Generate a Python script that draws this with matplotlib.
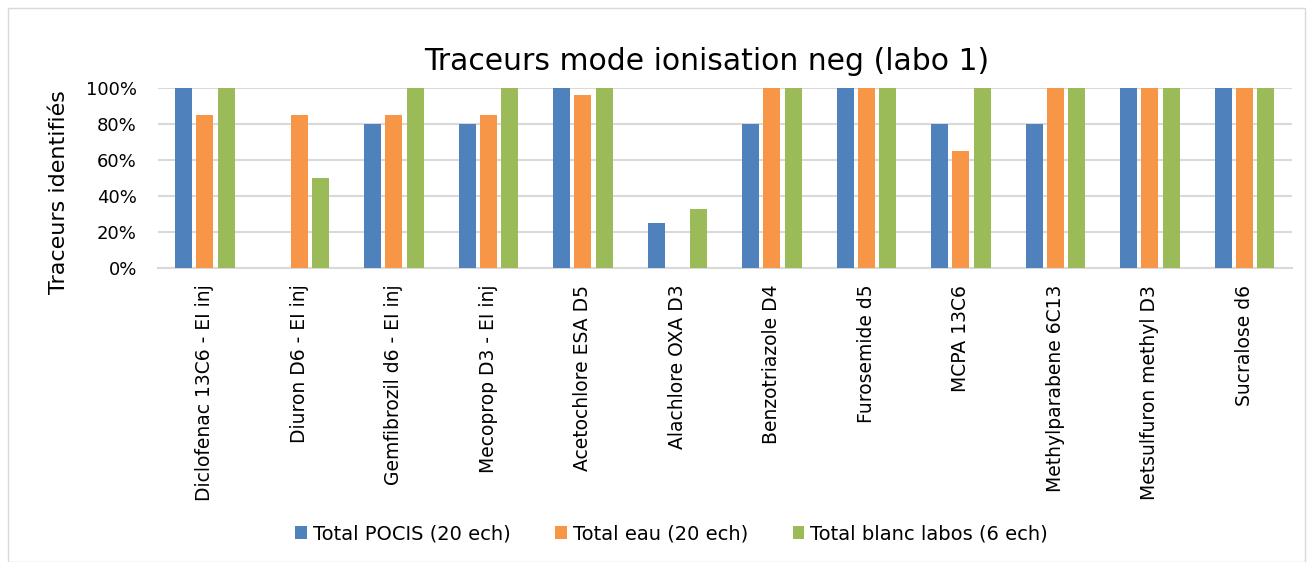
import matplotlib
matplotlib.use("Agg")
import matplotlib.pyplot as plt
from matplotlib.patches import Rectangle
import numpy as np

categories = ["Diclofenac 13C6 - EI inj", "Diuron D6 - EI inj", "Gemfibrozil d6 - EI inj",
              "Mecoprop D3 - EI inj", "Acetochlore ESA D5", "Alachlore OXA D3",
              "Benzotriazole D4", "Furosemide d5", "MCPA 13C6", "Methylparabene 6C13",
              "Metsulfuron methyl D3", "Sucralose d6"]
pocis = [100, 0, 80, 80, 100, 25, 80, 100, 80, 80, 100, 100]
eau = [85, 85, 85, 85, 96, 0, 100, 100, 65, 100, 100, 100]
blanc = [100, 50, 100, 100, 100, 33, 100, 100, 100, 100, 100, 100]
series_names = ["Total POCIS (20 ech)", "Total eau (20 ech)", "Total blanc labos (6 ech)"]
colors = ["#4F81BD", "#F79646", "#9BBB59"]

plt.rcParams['font.family'] = ['DejaVu Sans']

fig = plt.figure(figsize=(13.14, 5.62), dpi=100)
fig.patches.append(Rectangle((8 / 1314, 0), 1297 / 1314, 554 / 562, transform=fig.transFigure,
                             fill=False, edgecolor="#d9d9d9", lw=1))
ax = fig.add_axes([0.120, 0.523, 0.863, 0.320])

x = np.arange(len(categories))
w = 0.18
step = 0.225
for i, (vals, name) in enumerate(zip([pocis, eau, blanc], series_names)):
    ax.bar(x + (i - 1) * step, np.array(vals) / 100, width=w, color=colors[i], label=name, zorder=3)

ax.set_xlim(-0.5, len(categories) - 0.5)
ax.set_ylim(0, 1)
ax.set_yticks(np.arange(0, 1.01, 0.2))
ax.set_yticklabels([f"{int(round(v * 100))}%" for v in np.arange(0, 1.01, 0.2)], fontsize=13)
ax.set_xticks(x)
ax.set_xticklabels(categories, rotation=90, fontsize=13.5)
ax.tick_params(axis="y", length=0, pad=15)
ax.tick_params(axis="x", length=0, pad=12)
ax.grid(axis="y", color="#d9d9d9", lw=1.5, zorder=0)
for s in ["top", "right", "left"]:
    ax.spines[s].set_visible(False)
ax.spines["bottom"].set_color("#d9d9d9")
ax.spines["bottom"].set_linewidth(1.5)
ax.set_ylabel("Traceurs identifiés", fontsize=16)
ax.yaxis.set_label_coords(-0.078, 0.42)

fig.text(0.538, 0.89, "Traceurs mode ionisation neg (labo 1)", fontsize=21.5, ha="center", va="center")

fig.legend(loc="center", bbox_to_anchor=(0.511, 0.05), ncol=3, frameon=False, fontsize=14,
           handlelength=0.6, handleheight=0.6, columnspacing=2.3, handletextpad=0.3)

fig.savefig("out.png", dpi=100)
